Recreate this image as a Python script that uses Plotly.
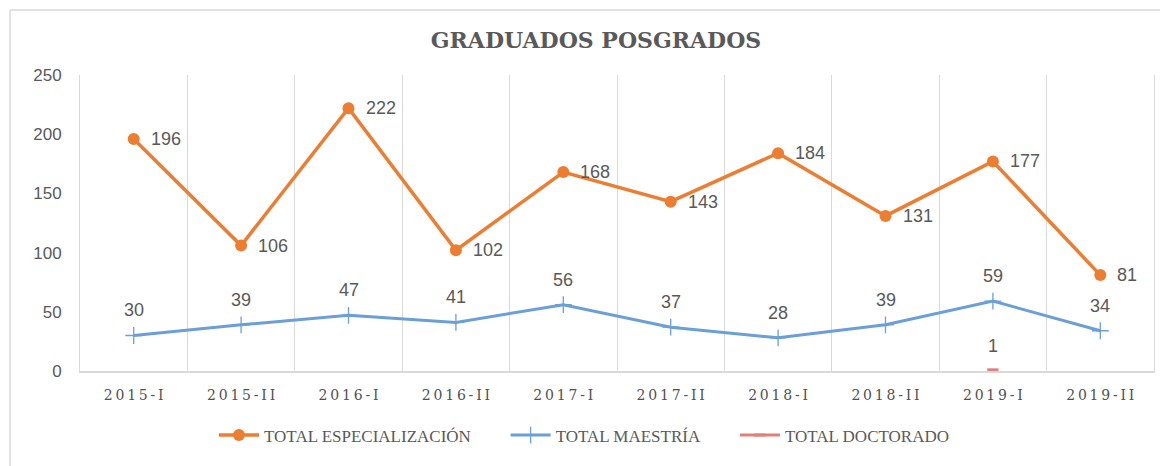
import plotly.graph_objects as go

periods = ["2015-I", "2015-II", "2016-I", "2016-II", "2017-I", "2017-II",
           "2018-I", "2018-II", "2019-I", "2019-II"]
especializacion = [196, 106, 222, 102, 168, 143, 184, 131, 177, 81]
maestria = [30, 39, 47, 41, 56, 37, 28, 39, 59, 34]
doctorado = [None, None, None, None, None, None, None, None, 1, None]

ORANGE = "#ED7D31"
BLUE = "#6A9FD8"
RED = "#E2807A"
GRAY = "#595959"
GRID = "#D9D9D9"
PAD = "\u00a0" * 7

def spaced(s):
    return "\u2009".join(list(s))

fig = go.Figure()
fig.add_trace(go.Scatter(
    x=periods, y=especializacion, name="TOTAL ESPECIALIZACIÓN" + PAD,
    mode="lines+markers",
    line=dict(color=ORANGE, width=3.5),
    marker=dict(color=ORANGE, size=12, symbol="circle"),
))
fig.add_trace(go.Scatter(
    x=periods, y=maestria, name="TOTAL MAESTRÍA" + PAD,
    mode="lines+markers",
    line=dict(color=BLUE, width=3),
    marker=dict(color=BLUE, size=12, symbol="cross-thin", line=dict(color=BLUE, width=1.3)),
))
fig.add_trace(go.Scatter(
    x=periods, y=doctorado, name="TOTAL DOCTORADO",
    mode="lines+markers",
    line=dict(color=RED, width=3),
    marker=dict(color=RED, size=8, symbol="line-ew", line=dict(color=RED, width=3)),
))

annotations = []
label_font = dict(family="Liberation Sans", size=18, color=GRAY)
for p, v in zip(periods, especializacion):
    annotations.append(dict(x=p, y=v, text=str(v), showarrow=False, xanchor="left",
                            yanchor="middle", xshift=15, font=label_font))
for p, v in zip(periods, maestria):
    annotations.append(dict(x=p, y=v, text=str(v), showarrow=False, xanchor="center",
                            yanchor="middle", yshift=25, font=label_font))
for p, v in zip(periods, doctorado):
    if v is not None:
        annotations.append(dict(x=p, y=v, text=str(v), showarrow=False, xanchor="center",
                                yanchor="middle", yshift=24, font=label_font))

# page has an 8px body margin: figure spans screen px 8..1168 / 8..466
OFF = 8
W, H = 1168 - OFF, 466 - OFF
L, R, T, B = 80 - OFF, 14, 75 - OFF, 93
pw, ph = W - L - R, H - T - B

def px_x(sx):
    return (sx - OFF - L) / pw

def px_y(sy):
    return (H - B - (sy - OFF)) / ph

fx = px_x(10)
fy = px_y(9.5)
shapes = [
    dict(type="line", xref="paper", yref="paper", x0=fx, x1=1.2, y0=fy, y1=fy,
         line=dict(color=GRID, width=1.5)),
    dict(type="line", xref="paper", yref="paper", x0=fx, x1=fx, y0=fy, y1=-0.5,
         line=dict(color=GRID, width=1.5)),
]

fig.update_layout(
    width=W, height=H,
    margin=dict(l=L, r=R, t=T, b=B),
    paper_bgcolor="white", plot_bgcolor="white",
    title=dict(text="<b>GRADUADOS POSGRADOS</b>", xref="container", yref="container",
               x=(596 - OFF) / W, y=1 - (40 - OFF) / H, xanchor="center", yanchor="middle",
               font=dict(family="DejaVu Serif", size=22, color=GRAY)),
    showlegend=True,
    legend=dict(orientation="h", xref="paper", yref="paper",
                x=px_x(214), y=px_y(438), xanchor="left", yanchor="middle",
                font=dict(family="Liberation Serif", size=17, color=GRAY),
                itemwidth=40, bgcolor="rgba(0,0,0,0)"),
    annotations=annotations,
    shapes=shapes,
)
fig.update_xaxes(
    type="category", tickson="boundaries", showgrid=True, gridcolor=GRID, gridwidth=1,
    showline=True, linecolor=GRID, linewidth=1.5, ticks="",
    tickvals=periods, ticktext=[spaced(p) for p in periods],
    tickfont=dict(family="DejaVu Serif", size=14, color="#505050"),
    ticklabelstandoff=10, range=[-0.5, 9.5],
)
fig.update_yaxes(
    range=[0, 250], dtick=50, showgrid=False, zeroline=False,
    showline=True, mirror=True, linecolor=GRID, linewidth=1,
    tickfont=dict(family="Liberation Sans", size=17, color=GRAY),
    ticklabelstandoff=14,
)

fig.write_html("out.html")
